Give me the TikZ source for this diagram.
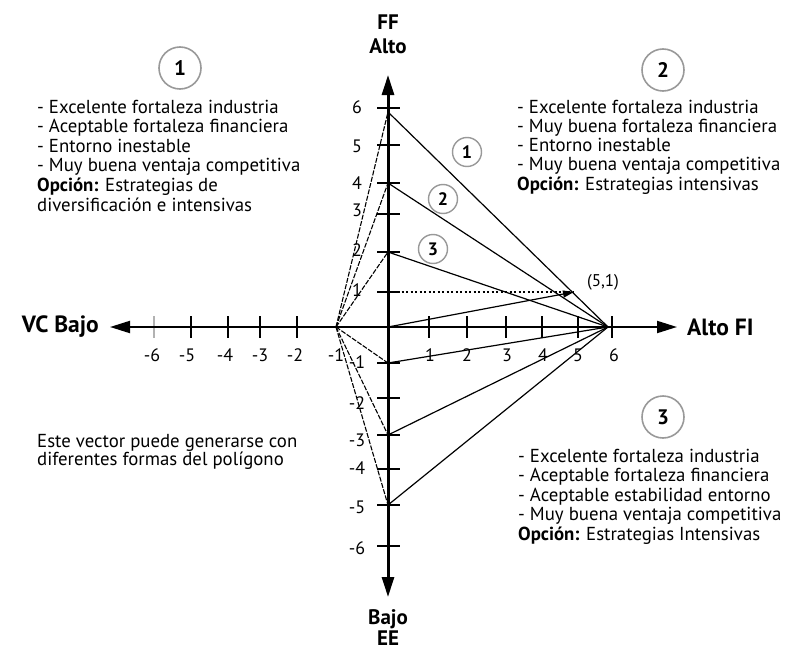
\documentclass[tikz,border=0pt]{standalone}
\usepackage{fontspec}
\setmainfont{PT Sans}
\usetikzlibrary{arrows.meta}
\begin{document}
\begin{tikzpicture}[x=1pt,y=-1pt,
  txt/.style={anchor=base west,inner sep=0pt,font=\fontsize{18.8}{19}\selectfont},
  ticklbl/.style={inner sep=0pt,font=\fontsize{18}{18}\selectfont},
  axlbl/.style={inner sep=0pt,font=\fontsize{23.5}{22}\selectfont\bfseries,align=center},
  vlbl/.style={inner sep=0pt,font=\fontsize{21}{20}\selectfont\bfseries},
  bigcirc/.style={circle,draw=black!40,line width=1.6pt,fill=white,minimum size=42pt,inner sep=0pt,font=\fontsize{21}{21}\selectfont\bfseries},
  smallcirc/.style={circle,draw=black!40,line width=1.4pt,fill=white,minimum size=29pt,inner sep=0pt,font=\fontsize{18}{18}\selectfont\bfseries},
  axisarrow/.style={{Triangle[length=20pt,width=12pt]}-{Triangle[length=20pt,width=12pt]}},
  vec/.style={line width=1.2pt},
  dvec/.style={line width=1.1pt,dash pattern=on 5pt off 1.5pt},
  tickmark/.style={line width=1.5pt}
]
\useasboundingbox (0,0) rectangle (796,653);

% key points
\coordinate (O) at (388,327);
\coordinate (L) at (336,327);
\coordinate (R) at (608,327);
\coordinate (P6) at (388,112);
\coordinate (P4) at (388,183);
\coordinate (P2) at (388,252);
\coordinate (P1) at (388,292);
\coordinate (Pm1) at (388,363);
\coordinate (Pm3) at (388,435);
\coordinate (Pm5) at (388,505);
\coordinate (P51) at (574,292);
\coordinate (xl) at (110,327);
\coordinate (xr) at (677,327);
\coordinate (yt) at (388,75);
\coordinate (yb) at (388,597);

% x-axis ticks
\foreach \x in {191,228,260,297,429,467,506,542,578,612}
  \draw[tickmark] (\x,316) -- (\x,338);
\draw[tickmark,black!30] (154,316) -- (154,338);
% y-axis ticks
\foreach \y in {108,145,183,214,252,292,363,398,435,469,505,546}
  \draw[tickmark] (377,\y) -- (400,\y);

% axes
\draw[axisarrow,line width=2pt] (xl) -- (xr);
\draw[axisarrow,line width=3pt] (yb) -- (yt);

% right polygon lines
\draw[vec] (P6) -- (R);
\draw[vec] (P4) -- (R);
\draw[vec] (P2) -- (R);
\draw[vec] (Pm1) -- (R);
\draw[vec] (Pm3) -- (R);
\draw[vec] (Pm5) -- (R);
% left polygon lines
\draw[dvec] (L) -- (P6);
\draw[dvec] (L) -- (P4);
\draw[dvec] (L) -- (P2);
\draw[dvec] (L) -- (Pm1);
\draw[dvec] (L) -- (Pm3);
\draw[dvec] (L) -- (Pm5);
% resulting vector
\draw[line width=1.4pt,dash pattern=on 2pt off 2.5pt] (P1) -- (P51);
\draw[vec,-{Triangle[length=11pt,width=7pt]}] (O) -- (P51);
\node[ticklbl,font=\fontsize{17}{18}\selectfont] (lbl51) at (603,282) {(5,1)};

% tick labels x
\foreach \x/\t in {152/-6,187/-5,225/-4,260/-3,295/-2,336/-1,430/1,467/2,507/3,543/4,578/5,614/6}
  \node[ticklbl] (xt\t) at (\x,355) {\t};
% tick labels y
\foreach \y/\t in {107/6,146/5,183/4,210/3,250/2,290/1,362/-1,403/-2,440/-3,468/-4,507/-5,548/-6}
  \node[ticklbl] (yt\t) at (357,\y) {\t};

% axis labels
\node[axlbl,anchor=east] (vc) at (99,327) {VC Bajo};
\node[axlbl,anchor=west] (fi) at (687,327) {Alto FI};
\node[vlbl] (ff) at (388,22) {FF};
\node[vlbl] (alto) at (388,46) {Alto};
\node[vlbl] (bajo) at (388,619) {Bajo};
\node[vlbl] (ee) at (388,638) {EE};

% circled numbers
\node[bigcirc] (c1) at (180,68) {1};
\node[bigcirc] (c2) at (663,70) {2};
\node[bigcirc] (c3) at (663,417) {3};
\node[smallcirc] (s1) at (467,152) {1};
\node[smallcirc] (s2) at (443,199) {2};
\node[smallcirc] (s3) at (433,249) {3};

% text blocks
\foreach \t [count=\i] in {- Excelente fortaleza industria,- Aceptable fortaleza financiera,- Entorno inestable,- Muy buena ventaja competitiva,\textbf{Opción:} Estrategias de,diversificación e intensivas}
  \node[txt] (a\i) at (37,{113+19.6*(\i-1)}) {\t};
\foreach \t [count=\i] in {- Excelente fortaleza industria,- Muy buena fortaleza financiera,- Entorno inestable,- Muy buena ventaja competitiva,\textbf{Opción:} Estrategias intensivas}
  \node[txt] (b\i) at (517,{113+19.3*(\i-1)}) {\t};
\foreach \t [count=\i] in {- Excelente fortaleza industria,- Aceptable fortaleza financiera,- Aceptable estabilidad entorno,- Muy buena ventaja competitiva,\textbf{Opción:} Estrategias Intensivas}
  \node[txt] (c\i) at (518,{462+19.5*(\i-1)}) {\t};
\node[txt] (d1) at (37,447) {Este vector puede generarse con};
\node[txt] (d2) at (37,465) {diferentes formas del polígono};
\end{tikzpicture}
\end{document}
